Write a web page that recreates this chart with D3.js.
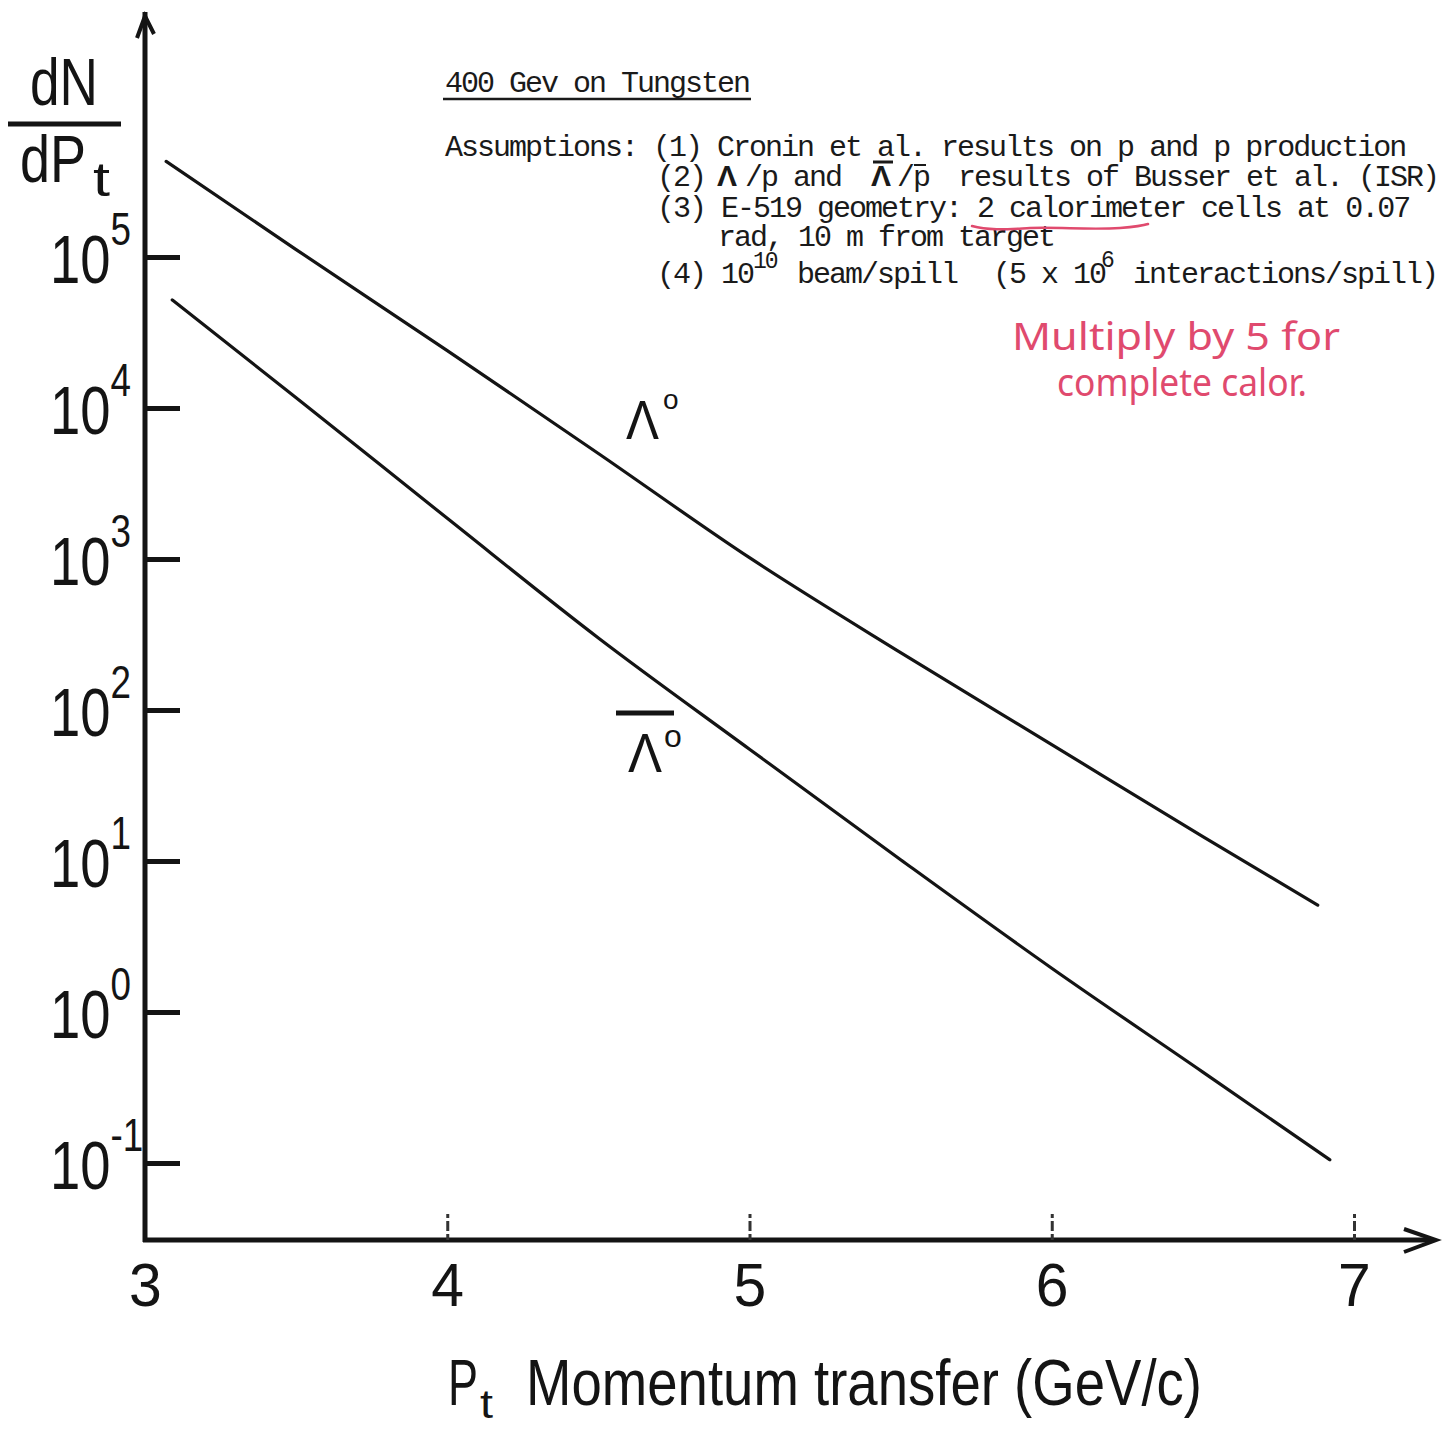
<!DOCTYPE html>
<html>
<head>
<meta charset="utf-8">
<script src="https://cdn.jsdelivr.net/npm/d3@7"></script>
<style>
  html, body { margin: 0; padding: 0; background: #fff; }
  svg { display: block; }
</style>
</head>
<body>
<svg id="chart" width="1447" height="1430"></svg>
<script>
// Transverse momentum Pt (GeV/c) and expected yield dN/dPt, 400 GeV p on tungsten
const ptLambda = [3.07, 3.5, 4.0, 4.5, 5.0, 5.5, 6.0, 6.5, 6.88];
const dnLambda = [4.3e5, 1.12e5, 2.4e4, 5.0e3, 1.02e3, 240, 59, 14.5, 5.1];

const ptAntiLambda = [3.09, 3.5, 4.0, 4.5, 5.0, 5.5, 6.0, 6.5, 6.92];
const dnAntiLambda = [5.2e4, 1.17e4, 1.86e3, 300, 55, 10.2, 1.95, 0.40, 0.105];

const xTicks = [3, 4, 5, 6, 7];
const xTickLabels = ["3", "4", "5", "6", "7"];
const yTicks = [1e-1, 1e0, 1e1, 1e2, 1e3, 1e4, 1e5];
const yTickExponents = ["-1", "0", "1", "2", "3", "4", "5"];

const svg = d3.select("#chart");
const ink = "#141414";
const red = "#e04a6e";
const sans = "'Liberation Sans', Arial, sans-serif";
const mono = "'Liberation Mono', 'DejaVu Sans Mono', monospace";

const x = d3.scaleLinear().domain([3, 7]).range([145, 1354]);
const y = d3.scaleLog().domain([0.1, 1e5]).range([1163, 257]);
const originY = 1240;

// ---- axes lines with arrow heads ----
svg.append("path")
  .attr("d", `M${x(3)},${originY + 2} V12`)
  .attr("stroke", ink).attr("stroke-width", 5).attr("fill", "none");
svg.append("path")
  .attr("d", `M137,38 L${x(3)},16 L154,34`)
  .attr("stroke", ink).attr("stroke-width", 4).attr("fill", "none");
svg.append("path")
  .attr("d", `M${x(3) - 2},${originY} H1432`)
  .attr("stroke", ink).attr("stroke-width", 5).attr("fill", "none");
svg.append("path")
  .attr("d", `M1404,1229 L1436,${originY} L1404,1252`)
  .attr("stroke", ink).attr("stroke-width", 4).attr("fill", "none");

// ---- y axis ticks and labels ----
const yAxis = d3.axisLeft(y).tickValues(yTicks).tickSizeInner(-35).tickSizeOuter(0).tickFormat("");
const gy = svg.append("g").attr("transform", `translate(${x(3)},0)`).call(yAxis);
gy.select(".domain").remove();
gy.selectAll(".tick line").attr("x1", 2).attr("stroke", ink).attr("stroke-width", 5);
gy.selectAll(".tick text").remove();
gy.selectAll(".tick").each(function (d, i) {
  const t = d3.select(this).append("text")
    .attr("transform", `translate(${50 - x(3)},25) scale(0.8,1)`)
    .attr("font-family", sans).attr("font-size", 68).attr("fill", ink)
    .attr("text-anchor", "start");
  t.append("tspan").text("10");
  t.append("tspan").attr("font-size", 46).attr("dy", -38).attr("dx", 0).text(yTickExponents[i]);
});

// ---- x axis ticks and labels ----
const xAxis = d3.axisBottom(x).tickValues(xTicks).tickSizeInner(-26).tickSizeOuter(0).tickFormat("");
const gx = svg.append("g").attr("transform", `translate(0,${originY})`).call(xAxis);
gx.select(".domain").remove();
gx.selectAll(".tick line").attr("stroke", "#333").attr("stroke-width", 3)
  .attr("stroke-dasharray", "6,3,10,3");
gx.selectAll(".tick line").filter(d => d === 3).remove();
gx.selectAll(".tick text").remove();
gx.selectAll(".tick").append("text")
  .attr("y", 66).attr("transform", "scale(0.95,1)")
  .attr("text-anchor", "middle")
  .attr("font-family", sans).attr("font-size", 62).attr("fill", ink)
  .text((d, i) => xTickLabels[i]);

// ---- axis titles ----
const yTitle = svg.append("g").attr("fill", ink).attr("font-family", sans);
yTitle.append("text").attr("x", 30).attr("y", 105).attr("font-size", 66)
  .attr("textLength", 68).attr("lengthAdjust", "spacingAndGlyphs").text("dN");
yTitle.append("line").attr("x1", 8).attr("x2", 121).attr("y1", 124).attr("y2", 124)
  .attr("stroke", ink).attr("stroke-width", 5);
yTitle.append("text").attr("x", 20).attr("y", 182).attr("font-size", 66)
  .attr("textLength", 66).attr("lengthAdjust", "spacingAndGlyphs").text("dP");
yTitle.append("text").attr("x", 93).attr("y", 196).attr("font-size", 48)
  .attr("textLength", 17).attr("lengthAdjust", "spacingAndGlyphs").text("t");

const xTitle = svg.append("g").attr("fill", ink).attr("font-family", sans);
xTitle.append("text").attr("x", 448).attr("y", 1405).attr("font-size", 65)
  .attr("textLength", 30).attr("lengthAdjust", "spacingAndGlyphs").text("P");
xTitle.append("text").attr("x", 480).attr("y", 1418).attr("font-size", 40)
  .attr("textLength", 13).attr("lengthAdjust", "spacingAndGlyphs").text("t");
xTitle.append("text").attr("x", 526).attr("y", 1405).attr("font-size", 65)
  .attr("textLength", 676).attr("lengthAdjust", "spacingAndGlyphs")
  .text("Momentum transfer (GeV/c)");

// ---- curves ----
const line = d3.line().x(d => x(d[0])).y(d => y(d[1])).curve(d3.curveMonotoneX);
const lambdaPts = ptLambda.map((p, i) => [p, dnLambda[i]]);
const antiPts = ptAntiLambda.map((p, i) => [p, dnAntiLambda[i]]);
svg.append("path").datum(lambdaPts).attr("d", line)
  .attr("fill", "none").attr("stroke", ink).attr("stroke-width", 3.2).attr("stroke-linecap", "round");
svg.append("path").datum(antiPts).attr("d", line)
  .attr("fill", "none").attr("stroke", ink).attr("stroke-width", 3.2).attr("stroke-linecap", "round");

// ---- curve labels ----
const lab = svg.append("g").attr("fill", ink).attr("font-family", sans);
lab.append("text").attr("x", 626).attr("y", 439).attr("font-size", 56)
  .attr("textLength", 33).attr("lengthAdjust", "spacingAndGlyphs").text("Λ");
lab.append("text").attr("x", 663).attr("y", 409).attr("font-size", 28).text("o");
lab.append("line").attr("x1", 616).attr("x2", 674).attr("y1", 713).attr("y2", 713)
  .attr("stroke", ink).attr("stroke-width", 5);
lab.append("text").attr("x", 628).attr("y", 772).attr("font-size", 56)
  .attr("textLength", 34).attr("lengthAdjust", "spacingAndGlyphs").text("Λ");
lab.append("text").attr("x", 664).attr("y", 747).attr("font-size", 32).text("o");

// ---- typed notes ----
const note = svg.append("g").attr("fill", "#1a1a1a").attr("font-family", mono)
  .attr("font-size", 30).attr("letter-spacing", -2);
note.append("text").attr("x", 445).attr("y", 92).text("400 Gev on Tungsten");
svg.append("line").attr("x1", 443).attr("x2", 751).attr("y1", 99).attr("y2", 99)
  .attr("stroke", "#1a1a1a").attr("stroke-width", 2.5);
note.append("text").attr("x", 445).attr("y", 156)
  .text("Assumptions: (1) Cronin et al. results on p and p production");

const l2 = 186;
note.append("text").attr("x", 657).attr("y", l2).text("(2)");
note.append("text").attr("x", 717).attr("y", l2).attr("font-weight", "bold").attr("font-family", sans)
  .attr("font-size", 30).text("Λ");
note.append("text").attr("x", 745).attr("y", l2).text("/p and");
note.append("text").attr("x", 871).attr("y", l2).attr("font-weight", "bold").attr("font-family", sans)
  .attr("font-size", 30).text("Λ");
svg.append("line").attr("x1", 873).attr("x2", 893).attr("y1", l2 - 24).attr("y2", l2 - 24)
  .attr("stroke", "#1a1a1a").attr("stroke-width", 3);
note.append("text").attr("x", 897).attr("y", l2).text("/p");
svg.append("line").attr("x1", 914).attr("x2", 926).attr("y1", l2 - 21).attr("y2", l2 - 21)
  .attr("stroke", "#1a1a1a").attr("stroke-width", 2);
note.append("text").attr("x", 958).attr("y", l2).text("results of Busser et al. (ISR)");

note.append("text").attr("x", 657).attr("y", 217)
  .text("(3) E-519 geometry: 2 calorimeter cells at 0.07");
note.append("text").attr("x", 718).attr("y", 246).text("rad, 10 m from target");

const l5 = 283;
note.append("text").attr("x", 657).attr("y", l5).text("(4) 10");
note.append("text").attr("x", 753).attr("y", l5 - 15).attr("font-size", 23).text("10");
note.append("text").attr("x", 797).attr("y", l5).text("beam/spill");
note.append("text").attr("x", 993).attr("y", l5).text("(5 x 10");
note.append("text").attr("x", 1101).attr("y", l5 - 16).attr("font-size", 23).text("6");
note.append("text").attr("x", 1133).attr("y", l5).text("interactions/spill)");

// ---- handwritten remark in red ----
svg.append("path")
  .attr("d", "M972,226 C990,231 1010,229 1030,228 C1060,227 1090,230 1120,228 C1132,227 1142,226 1148,224")
  .attr("fill", "none").attr("stroke", red).attr("stroke-width", 2.5).attr("stroke-linecap", "round");
const hand = svg.append("g").attr("fill", red).attr("font-family", "'Noto Sans', sans-serif")
  .attr("font-size", 38);
hand.append("text").attr("x", 1012).attr("y", 350)
  .attr("textLength", 328).attr("lengthAdjust", "spacingAndGlyphs").text("Multiply by 5 for");
hand.append("text").attr("x", 1057).attr("y", 396)
  .attr("textLength", 250).attr("lengthAdjust", "spacingAndGlyphs").text("complete calor.");
</script>
</body>
</html>
